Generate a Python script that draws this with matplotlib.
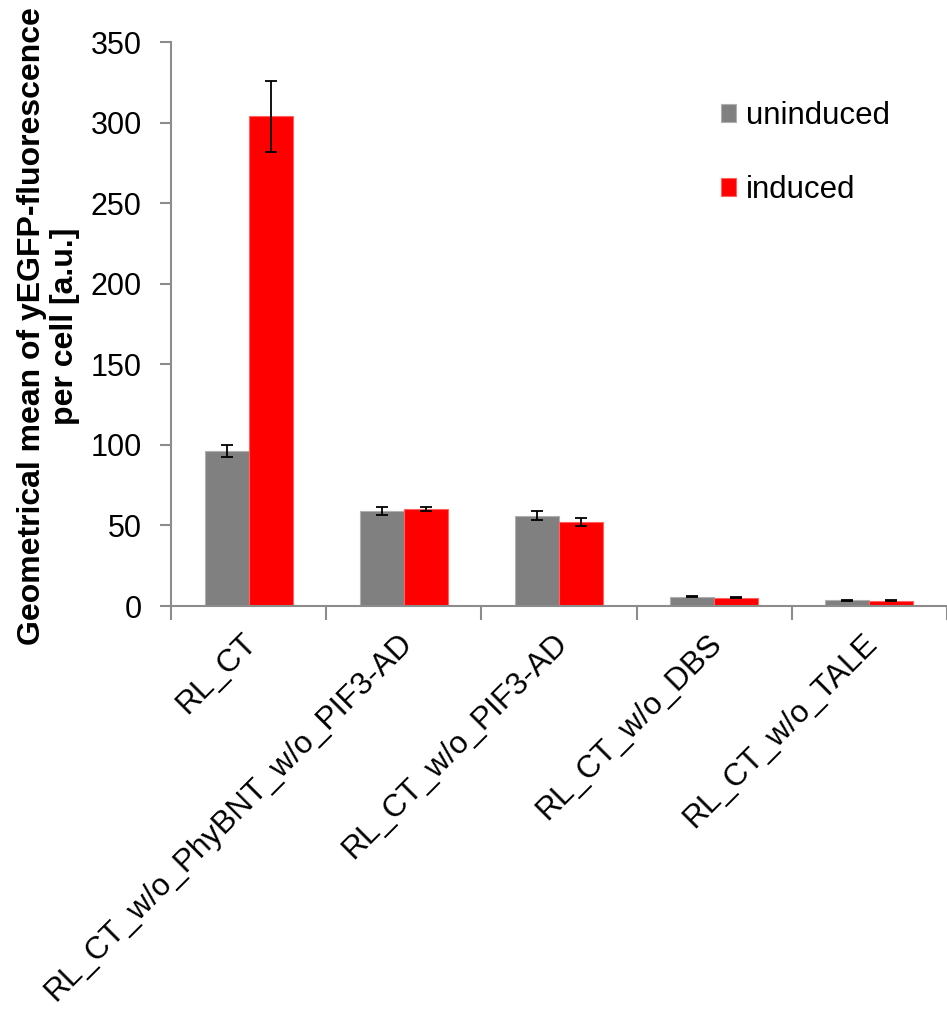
import matplotlib.pyplot as plt
import matplotlib.transforms as mtransforms
import numpy as np

plt.rcParams['font.family'] = ['Liberation Sans', 'DejaVu Sans']

strains = ['RL_CT', 'RL_CT_w/o_PhyBNT_w/o_PIF3-AD', 'RL_CT_w/o_PIF3-AD',
           'RL_CT_w/o_DBS', 'RL_CT_w/o_TALE']
uninduced = [96, 59, 56, 5.8, 3.5]
uninduced_err = [3.7, 2.5, 2.9, 0.5, 0.4]
induced = [304, 60, 52, 5.2, 3.4]
induced_err = [22, 1.2, 2.5, 0.5, 0.5]

W, H = 947, 1009
fig = plt.figure(figsize=(W / 100, H / 100), dpi=100)
ax = fig.add_axes([171 / W, (H - 606) / H, (W - 171) / W, (606 - 42) / H])

x = np.arange(len(strains))
bw = 0.283
axis_grey = '#8c8c8c'

ax.bar(x - bw / 2, uninduced, bw, color='#808080', edgecolor='#b0b0b0',
       linewidth=0.8, label='uninduced', zorder=2)
ax.bar(x + bw / 2, induced, bw, color='#ff0000', edgecolor='#ff6060',
       linewidth=0.8, label='induced', zorder=2)
ax.errorbar(x - bw / 2, uninduced, yerr=uninduced_err, fmt='none',
            ecolor='black', elinewidth=1.3, capsize=4.5, capthick=1.3, zorder=3)
ax.errorbar(x + bw / 2, induced, yerr=induced_err, fmt='none',
            ecolor='black', elinewidth=1.3, capsize=4.5, capthick=1.3, zorder=3)

ax.set_xlim(-0.5, (W - 171) / 157 - 0.5)
ax.set_ylim(0, 350)
ax.set_yticks(np.arange(0, 351, 50))
ax.tick_params(axis='y', labelsize=22, length=8, width=1.5, color=axis_grey,
               direction='out', pad=13)

# category labels at the centres, tick marks at the boundaries
ax.set_xticks(x)
ax.set_xticklabels(strains, rotation=45, ha='right', va='top',
                   rotation_mode='anchor', fontsize=22.7)
ax.tick_params(axis='x', length=0, pad=16)
shift = mtransforms.ScaledTranslation(-7 / 100, 0, fig.dpi_scale_trans)
for lab in ax.get_xticklabels():
    lab.set_transform(lab.get_transform() + shift)
ax.set_xticks(np.arange(-0.5, len(strains) + 0.5, 1), minor=True)
ax.tick_params(axis='x', which='minor', length=10, width=1.5, color=axis_grey,
               direction='out')

for side in ['top', 'right']:
    ax.spines[side].set_visible(False)
for side in ['left', 'bottom']:
    ax.spines[side].set_color(axis_grey)
    ax.spines[side].set_linewidth(1.5)

ax.set_ylabel('Geometrical mean of yEGFP-fluorescence\nper cell [a.u.]',
              fontsize=23, fontweight='bold', linespacing=1.12)
ax.yaxis.set_label_coords(-0.117, 0.496)

ax.legend(loc='upper left', bbox_to_anchor=(0.672, 0.945), frameon=False,
          fontsize=22.5, handlelength=0.5, handleheight=0.5, handletextpad=0.32,
          labelspacing=1.4)

fig.savefig('out.png', dpi=100)
